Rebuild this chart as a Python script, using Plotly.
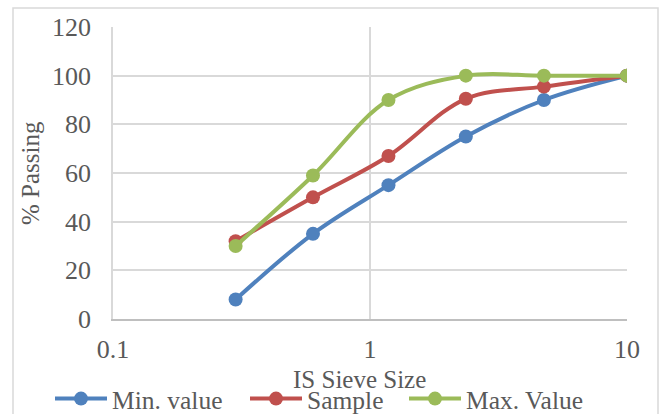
import plotly.graph_objects as go

sieve_sizes = [0.3, 0.6, 1.18, 2.36, 4.75, 10]
min_value = [8, 35, 55, 75, 90, 100]
sample = [32, 50, 67, 90.5, 95.5, 100]
max_value = [30, 59, 90, 100, 100, 100]

series = [
    ("Min. value", min_value, "#4F81BD", "legend", 50),
    ("Sample", sample, "#C0504D", "legend2", 245),
    ("Max. Value", max_value, "#9BBB59", "legend3", 404),
]

FONT = "Liberation Serif"
TXT = "#595959"
GRID = "#D9D9D9"

L, R, T, B = 113, 35, 27, 95
W, H = 662, 414
pw = W - L - R
ph = H - T - B

fig = go.Figure()
legends = {}
for name, vals, col, leg, lx in series:
    fig.add_trace(go.Scatter(
        x=sieve_sizes, y=vals, name=name, mode="lines+markers",
        line=dict(color=col, width=4, shape="spline"),
        marker=dict(color=col, size=14),
        legend=leg,
    ))
    legends[leg] = dict(
        orientation="h", x=(lx - L) / pw, xanchor="left",
        y=(H - 399 - B) / ph, yanchor="middle",
        font=dict(family=FONT, size=25.5, color=TXT),
        itemwidth=52, bgcolor="rgba(0,0,0,0)", borderwidth=0,
    )

fig.update_layout(
    template="none",
    width=W, height=H,
    margin=dict(l=L, r=R, t=T, b=B, autoexpand=False),
    paper_bgcolor="white", plot_bgcolor="white",
    font=dict(family=FONT, size=25, color=TXT),
    showlegend=True,
    xaxis=dict(
        type="log", range=[-1, 1],
        tickvals=[0.1, 1, 10], ticktext=["0.1", "1", "10"],
        showgrid=True, gridcolor=GRID, gridwidth=1.5,
        showline=True, linecolor="#BFBFBF", linewidth=1.5,
        ticks="", ticklabelstandoff=6, automargin=False,
        tickfont=dict(family=FONT, size=26, color=TXT),
    ),
    yaxis=dict(
        range=[0, 120], dtick=20,
        showgrid=True, gridcolor=GRID, gridwidth=1.5,
        showline=True, linecolor=GRID, linewidth=1.5,
        zeroline=False, ticks="", ticklabelstandoff=15, automargin=False,
        tickfont=dict(family=FONT, size=26, color=TXT),
    ),
    annotations=[
        dict(text="IS Sieve Size", xref="paper", yref="paper",
             x=(359 - L) / pw, y=(H - B - 379) / ph,
             xanchor="center", yanchor="middle", showarrow=False,
             font=dict(family=FONT, size=25, color=TXT)),
        dict(text="% Passing", xref="paper", yref="paper",
             x=(30 - L) / pw, y=0.5, textangle=-90,
             xanchor="center", yanchor="middle", showarrow=False,
             font=dict(family=FONT, size=25, color=TXT)),
    ],
    shapes=[
        dict(type="rect", xref="paper", yref="paper",
             x0=(13 - L) / pw, x1=(658 - L) / pw,
             y0=(H - B - 430) / ph, y1=(H - B - 8) / ph,
             line=dict(color=GRID, width=1.5), fillcolor="rgba(0,0,0,0)",
             layer="below"),
    ],
    **legends,
)

fig.write_html(
    "out.html",
    config={"displayModeBar": False},
    post_script="document.body.style.margin='0';document.body.style.overflow='hidden';",
)
